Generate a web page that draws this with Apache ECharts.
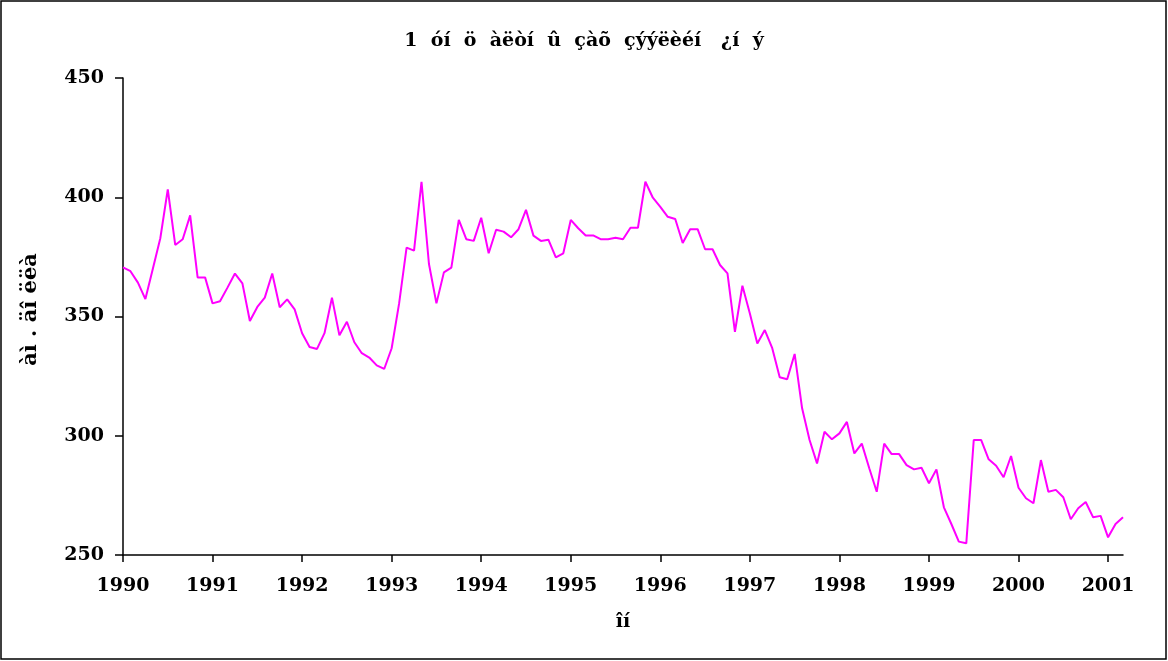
<!DOCTYPE html>
<html>
<head>
<meta charset="utf-8">
<script src="https://cdn.jsdelivr.net/npm/echarts@6/dist/echarts.min.js"></script>
<style>
  html, body { margin: 0; padding: 0; background: #fff; }
  #chart { width: 1168px; height: 661px; }
</style>
</head>
<body>
<div id="chart"></div>
<script>
// 年份刻度（每12個月一個）
const yearLabels = ['1990', '1991', '1992', '1993', '1994', '1995', '1996', '1997', '1998', '1999', '2000', '2001']
// 月份類目：1990-01 ~ 2001-03
const months = []
yearLabels.forEach((y) => {
  for (let m = 1; m <= 12; m++) months.push(y + '-' + String(m).padStart(2, '0'))
})
const categories = months.slice(0, 135)

// 每月價格
const priceValues = [
  370.6, 369.0, 364.2, 357.3, 370.0, 382.8, 403.3, 380.0, 382.4, 392.4, 366.4, 366.4,
  355.5, 356.4, 362.1, 368.0, 363.9, 348.1, 354.0, 357.9, 368.0, 353.9, 357.2, 353.0,
  343.0, 337.2, 336.4, 343.0, 357.9, 342.1, 347.8, 339.2, 334.6, 332.8, 329.5, 328.0,
  336.7, 355.5, 378.9, 377.6, 406.5, 372.0, 355.5, 368.5, 370.5, 390.5, 382.4, 381.7,
  391.4, 376.5, 386.4, 385.6, 383.2, 386.6, 394.7, 383.9, 381.7, 382.2, 374.8, 376.5,
  390.5, 387.0, 384.0, 384.0, 382.4, 382.4, 383.0, 382.4, 387.2, 387.2, 406.5, 399.8,
  396.0, 391.8, 390.9, 380.8, 386.6, 386.6, 378.2, 378.2, 371.6, 368.1, 343.6, 362.9,
  351.3, 338.7, 344.3, 336.7, 324.5, 323.7, 334.3, 311.5, 298.2, 288.4, 301.7, 298.5,
  301.0, 305.8, 292.6, 296.7, 286.4, 276.5, 296.7, 292.3, 292.3, 287.7, 285.9, 286.6,
  280.1, 285.9, 270.0, 263.0, 255.6, 254.9, 298.2, 298.2, 290.1, 287.4, 282.6, 291.5,
  278.2, 273.8, 271.7, 289.8, 276.5, 277.3, 274.2, 265.0, 269.6, 272.2, 265.8, 266.4,
  257.4, 263.0, 265.8
]

const titleText = '1  óí  ö  àëòí  û  çàõ  çýýëèéí   ¿í  ý'
const yName = 'àì . äî ëëà'
const xName = 'îí'

const font = 'DejaVu Serif'
const myChart = echarts.init(document.getElementById('chart'))

const option = {
  animation: false,
  backgroundColor: '#fff',
  title: {
    text: titleText,
    left: 'center',
    top: 27,
    textStyle: { fontFamily: font, fontWeight: 'bold', fontSize: 19, color: '#000' },
  },
  graphic: [
    {
      type: 'rect',
      shape: { x: 1, y: 1, width: 1165, height: 658 },
      style: { fill: 'none', stroke: '#000', lineWidth: 1.5 },
      silent: true,
    },
  ],
  grid: { left: 123, right: 45, top: 78, bottom: 106 },
  xAxis: {
    type: 'category',
    data: categories,
    boundaryGap: false,
    name: xName,
    nameLocation: 'middle',
    nameGap: 58,
    nameTextStyle: { fontFamily: font, fontWeight: 'bold', fontSize: 19, color: '#000' },
    axisLine: { lineStyle: { color: '#000', width: 1.5 } },
    axisTick: { interval: 11, length: 7, lineStyle: { color: '#000', width: 1.5 } },
    axisLabel: {
      interval: 11,
      margin: 22,
      fontFamily: font,
      fontWeight: 'bold',
      fontSize: 19,
      color: '#000',
      formatter: (v) => v.slice(0, 4),
    },
    splitLine: { show: false },
  },
  yAxis: {
    type: 'value',
    min: 250,
    max: 450,
    interval: 50,
    name: yName,
    nameLocation: 'middle',
    nameGap: 82,
    nameTextStyle: { fontFamily: font, fontWeight: 'bold', fontSize: 21, color: '#000', padding: [0, 0, 0, 14] },
    axisLine: { show: true, lineStyle: { color: '#000', width: 1.5 } },
    axisTick: { show: true, length: 8, lineStyle: { color: '#000', width: 1.5 } },
    axisLabel: { margin: 19, fontFamily: font, fontWeight: 'bold', fontSize: 19, color: '#000' },
    splitLine: { show: false },
  },
  series: [
    {
      type: 'line',
      data: priceValues,
      showSymbol: false,
      lineStyle: { color: '#ff00ff', width: 2 },
      itemStyle: { color: '#ff00ff' },
    },
  ],
}

myChart.setOption(option)
</script>
</body>
</html>
